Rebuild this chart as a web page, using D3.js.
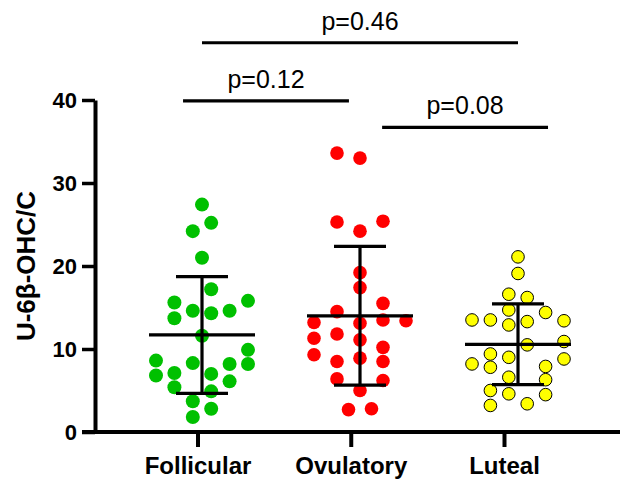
<!DOCTYPE html>
<html>
<head>
<meta charset="utf-8">
<script src="https://cdn.jsdelivr.net/npm/d3@7"></script>
<style>
  html, body { margin: 0; padding: 0; background: #fff; }
  svg { display: block; font-family: Arial, "Liberation Sans", Helvetica, sans-serif; }
</style>
</head>
<body>
<svg id="chart" width="622" height="481"></svg>
<script>
// ---- data ----
const categories = ["Follicular", "Ovulatory", "Luteal"];
const yTicks = [0, 10, 20, 30, 40];
const yLabel = "U-6β-OHC/C";

const follicularValues = [27.4, 25.2, 24.2, 21.0, 17.2, 15.6, 15.8, 14.6, 14.3, 14.6, 13.7, 11.6, 9.9,
  8.6, 8.3, 8.2, 8.2, 6.8, 7.1, 7.0, 6.1, 5.4, 4.9, 3.7, 2.8, 1.8];
const follicularSpread = [0, 0.2, -0.2, 0, 0.2, -0.6, 1, -0.2, 0.2, 0.6, -0.6, 0, 1,
  -1, -0.2, 0.6, 1, -1, -0.6, 0.2, 0.6, -0.6, 0.2, -0.2, 0.2, -0.2];

const ovulatoryValues = [33.6, 33.0, 25.3, 25.4, 24.2, 19.2, 17.4, 15.5, 14.5, 13.5, 13.4, 13.2, 13.1,
  11.3, 11.8, 11.1, 9.3, 10.2, 8.9, 8.5, 8.5, 6.4, 6.2, 5.0, 2.7, 2.8];
const ovulatorySpread = [-0.5, 0, -0.5, 0.5, 0, 0, 0, 0.5, -0.5, 0.5, 1, -1, 0,
  -1, -0.5, 0, -1, 0.5, 0, -0.5, 0.5, -0.5, 0.5, 0, -0.25, 0.25];

const lutealValues = [21.1, 19.1, 16.6, 16.2, 14.7, 14.4, 13.5, 13.5, 13.4, 12.9, 13.3, 10.5, 10.9,
  9.4, 9.0, 8.8, 8.2, 7.8, 7.9, 6.6, 6.3, 5.0, 4.6, 4.5, 3.4, 3.2];
const lutealSpread = [0, 0, -0.2, 0.2, -0.2, 0.6, -1, -0.6, 1, -0.2, 0.2, 0.2, 1,
  -0.6, -0.2, 1, -1, -0.6, 0.6, -0.2, 0.6, -0.6, -0.2, 0.6, 0.2, -0.6];

// comparisons: bracket level (y units), bracket ends (category index units), label
const comparisonLabels = ["p=0.46", "p=0.12", "p=0.08"];
const comparisonLevels = [46.9, 39.9, 36.7];
const comparisonStarts = [0, -0.12, 1.14];
const comparisonEnds = [2, 0.93, 2.19];

// ---- styles ----
const groupStyles = [
  { fill: "#00c000", stroke: "none", r: 7 },
  { fill: "#ff0000", stroke: "none", r: 6.8 },
  { fill: "#ffff00", stroke: "#000", r: 6.3 }
];

const groups = [
  { name: categories[0], values: follicularValues, spread: follicularSpread },
  { name: categories[1], values: ovulatoryValues, spread: ovulatorySpread },
  { name: categories[2], values: lutealValues, spread: lutealSpread }
];

const svg = d3.select("#chart");

// ---- scales ----
const y = d3.scaleLinear().domain([0, 40]).range([432, 100]);
const xAxisScale = d3.scalePoint().domain(categories).range([197.5, 504]);
const xMark = d3.scaleLinear().domain([0, 2]).range([202, 518]);
const spreadScale = d3.scaleLinear().domain([-1, 1]).range([-46, 46]);

// ---- points ----
groups.forEach((g, gi) => {
  const st = groupStyles[gi];
  const cx = xMark(gi);
  svg.append("g").selectAll("circle")
    .data(g.values.map((v, i) => ({ v, s: g.spread[i] })))
    .join("circle")
    .attr("cx", d => cx + spreadScale(d.s))
    .attr("cy", d => y(d.v))
    .attr("r", st.r)
    .attr("fill", st.fill)
    .attr("stroke", st.stroke)
    .attr("stroke-width", st.stroke === "none" ? 0 : 1);
});

// ---- mean ± SD ----
groups.forEach((g, gi) => {
  const cx = xMark(gi);
  const m = d3.mean(g.values);
  const sd = d3.deviation(g.values);
  const gg = svg.append("g").attr("stroke", "#000").attr("stroke-width", 3.2);
  gg.append("line").attr("x1", cx - 53).attr("x2", cx + 53).attr("y1", y(m)).attr("y2", y(m));
  gg.append("line").attr("x1", cx).attr("x2", cx).attr("y1", y(m + sd)).attr("y2", y(m - sd));
  gg.append("line").attr("x1", cx - 26).attr("x2", cx + 26).attr("y1", y(m + sd)).attr("y2", y(m + sd));
  gg.append("line").attr("x1", cx - 26).attr("x2", cx + 26).attr("y1", y(m - sd)).attr("y2", y(m - sd));
});

// ---- axes ----
const yAxis = svg.append("g")
  .attr("transform", "translate(95,0)")
  .call(d3.axisLeft(y).tickValues(yTicks).tickSize(13).tickSizeOuter(0).tickPadding(5));
yAxis.select(".domain").attr("stroke-width", 4);
yAxis.selectAll(".tick line").attr("stroke-width", 3.5);
yAxis.selectAll(".tick text").attr("font-size", 22).attr("font-weight", "bold")
  .attr("font-family", "Arial, 'Liberation Sans', sans-serif").attr("fill", "#000");

// x axis line extends across the chart
svg.append("line").attr("x1", 82).attr("x2", 620).attr("y1", 432).attr("y2", 432)
  .attr("stroke", "#000").attr("stroke-width", 4);

const xAxis = svg.append("g")
  .attr("transform", "translate(0,432)")
  .call(d3.axisBottom(xAxisScale).tickSize(15).tickSizeOuter(0).tickPadding(10));
xAxis.select(".domain").remove();
xAxis.selectAll(".tick line").attr("stroke-width", 4);
xAxis.selectAll(".tick text").attr("font-size", 24).attr("font-weight", "bold")
  .attr("font-family", "Arial, 'Liberation Sans', sans-serif").attr("fill", "#000");

// y label
svg.append("text")
  .attr("transform", "translate(35,266) rotate(-90)")
  .attr("text-anchor", "middle")
  .attr("font-size", 26).attr("font-weight", "bold")
  .text(yLabel);

// ---- comparisons ----
comparisonLabels.forEach((lab, i) => {
  const x1 = xMark(comparisonStarts[i]);
  const x2 = xMark(comparisonEnds[i]);
  const yy = y(comparisonLevels[i]);
  svg.append("line").attr("x1", x1).attr("x2", x2).attr("y1", yy).attr("y2", yy)
    .attr("stroke", "#000").attr("stroke-width", 3.2);
  svg.append("text").attr("x", (x1 + x2) / 2).attr("y", yy - 13)
    .attr("text-anchor", "middle").attr("font-size", 25).attr("fill", "#000")
    .text(lab);
});
</script>
</body>
</html>
